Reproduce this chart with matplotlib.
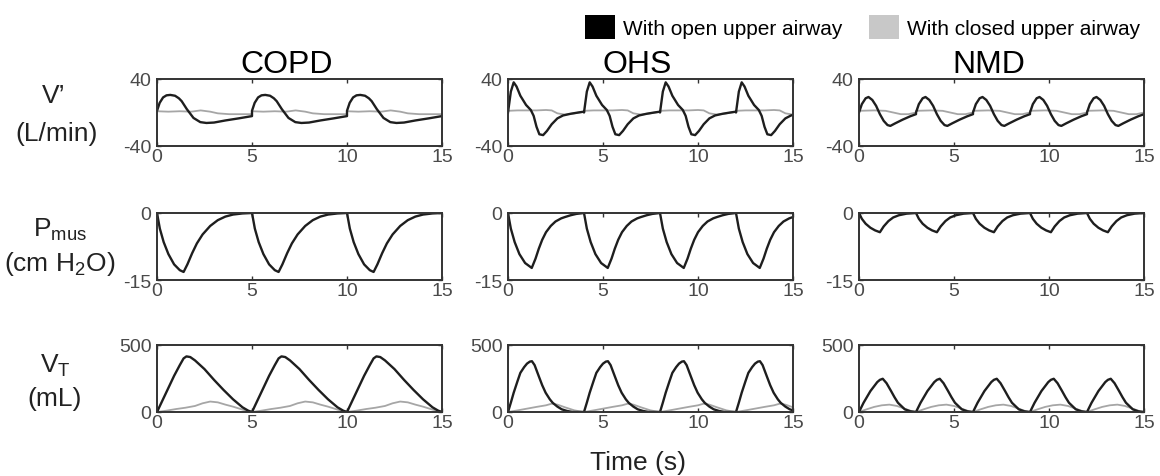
import numpy as np
import matplotlib
matplotlib.use('Agg')
import matplotlib.pyplot as plt
from matplotlib.patches import Patch

plt.rcParams['font.family'] = ['Liberation Sans', 'DejaVu Sans']
plt.rcParams['mathtext.fontset'] = 'custom'
plt.rcParams['mathtext.rm'] = 'Liberation Sans'
plt.rcParams['axes.unicode_minus'] = False

# one breath cycle per panel (t in s within the cycle)
diseases = ['COPD', 'OHS', 'NMD']
periods = [5.0, 4.0, 3.0]

copd_flow_t = [0, 0.14, 0.32, 0.5, 0.7, 0.95, 1.15, 1.3, 1.57, 1.92, 2.28, 2.6, 3.0, 3.6, 4.3, 5.0]
copd_flow_open = [2, 11.5, 18, 20.5, 21, 20, 17, 13.5, 4, -6.5, -11.5, -12.5, -12, -9.5, -7, -4.3]
copd_flow_closed_t = [0, 0.6, 1.2, 1.8, 2.3, 2.8, 3.2, 3.8, 4.4, 5.0]
copd_flow_closed = [1.5, 1, 1.5, 1, 2.5, 1, -1, -2, -2, -2]

ohs_flow_t = [0, 0.15, 0.3, 0.45, 0.65, 0.95, 1.2, 1.35, 1.5, 1.65, 1.85, 2.05, 2.3, 2.6, 2.9, 3.3, 3.7, 4.0]
ohs_flow_open = [0, 25, 36, 31, 20, 9, 3, -4, -17, -26, -27, -22, -14, -7, -3.5, -1.5, 0, 1]
ohs_flow_closed_t = [0, 0.5, 1.0, 1.5, 2.0, 2.3, 2.6, 3.0, 3.5, 4.0]
ohs_flow_closed = [2, 2.5, 2.5, 2.5, 3, 2.5, -1, -2.5, -1, 1]

nmd_flow_t = [0, 0.15, 0.35, 0.5, 0.7, 0.9, 1.1, 1.3, 1.5, 1.65, 1.9, 2.3, 2.7, 3.0]
nmd_flow_open = [0, 10, 17, 18.5, 15, 8, -2, -10, -15, -16, -13, -8.5, -4.5, -2]
nmd_flow_closed_t = [0, 0.8, 1.4, 1.8, 2.2, 2.6, 3.0]
nmd_flow_closed = [2, 2.5, 2, 0, -2, -2, 0]

copd_pmus_t = [0, 0.15, 0.35, 0.6, 0.9, 1.2, 1.4, 1.6, 1.85, 2.1, 2.4, 2.8, 3.2, 3.6, 4.0, 4.5, 5.0]
copd_pmus = [0, -3.5, -6.5, -9.2, -11.5, -12.8, -13.2, -11.5, -9, -6.8, -4.8, -2.9, -1.6, -0.8, -0.35, -0.1, 0]

ohs_pmus_t = [0, 0.15, 0.35, 0.6, 0.9, 1.25, 1.45, 1.62, 1.8, 2.0, 2.25, 2.5, 2.8, 3.0, 3.3, 3.6, 4.0]
ohs_pmus = [0, -3.5, -6.5, -9.2, -11.2, -12.3, -10.2, -8, -6, -4.3, -2.9, -1.9, -1.2, -0.9, -0.5, -0.2, 0]

nmd_pmus_t = [0, 0.15, 0.35, 0.6, 0.85, 1.1, 1.3, 1.55, 1.8, 2.1, 2.5, 3.0]
nmd_pmus = [0, -1.3, -2.4, -3.3, -3.9, -4.3, -3.0, -1.8, -1.0, -0.5, -0.15, 0]

copd_vt_t = [0, 0.3, 0.6, 0.9, 1.2, 1.4, 1.55, 1.75, 2.0, 2.5, 3.0, 3.5, 4.0, 4.5, 4.8, 5.0]
copd_vt_open = [0, 90, 180, 270, 350, 400, 415, 410, 385, 320, 240, 165, 95, 35, 10, 0]
copd_vt_closed_t = [0, 0.5, 1.0, 1.5, 2.0, 2.4, 2.8, 3.2, 3.6, 4.0, 4.5, 5.0]
copd_vt_closed = [0, 10, 22, 32, 45, 65, 78, 72, 55, 40, 18, 0]

ohs_vt_t = [0, 0.15, 0.3, 0.5, 0.65, 0.85, 1.0, 1.15, 1.26, 1.4, 1.62, 1.8, 1.98, 2.2, 2.35, 2.6, 2.83, 3.1, 3.4, 4.0]
ohs_vt_open = [0, 70, 144, 230, 292, 335, 361, 376, 379, 350, 267, 200, 144, 95, 69, 40, 20, 8, 0, 0]
ohs_vt_closed_t = [0, 0.5, 1.0, 1.5, 2.0, 2.3, 2.6, 3.0, 3.5, 4.0]
ohs_vt_closed = [0, 12, 25, 38, 50, 62, 55, 35, 12, 0]

nmd_vt_t = [0, 0.24, 0.6, 0.96, 1.1, 1.25, 1.45, 1.69, 1.87, 2.05, 2.41, 2.7, 3.0]
nmd_vt_open = [0, 69, 156, 223, 240, 248, 215, 156, 110, 69, 20, 5, 0]
nmd_vt_closed_t = [0, 0.4, 0.8, 1.2, 1.6, 2.0, 2.4, 2.8, 3.0]
nmd_vt_closed = [0, 20, 38, 50, 55, 45, 25, 5, 0]

rows = [
    [(copd_flow_t, copd_flow_open, copd_flow_closed_t, copd_flow_closed),
     (ohs_flow_t, ohs_flow_open, ohs_flow_closed_t, ohs_flow_closed),
     (nmd_flow_t, nmd_flow_open, nmd_flow_closed_t, nmd_flow_closed)],
    [(copd_pmus_t, copd_pmus, None, None),
     (ohs_pmus_t, ohs_pmus, None, None),
     (nmd_pmus_t, nmd_pmus, None, None)],
    [(copd_vt_t, copd_vt_open, copd_vt_closed_t, copd_vt_closed),
     (ohs_vt_t, ohs_vt_open, ohs_vt_closed_t, ohs_vt_closed),
     (nmd_vt_t, nmd_vt_open, nmd_vt_closed_t, nmd_vt_closed)],
]
ylims = [(-40, 40), (-15, 0), (0, 500)]
x_ticks = [0, 5, 10, 15]


def repeat_cycle(t, y, period, end=15.0):
    # place the same breath one after another over the 15 s window
    ts, ys = [], []
    for start in np.arange(0, end, period):
        ts.append(np.asarray(t) + start)
        ys.append(np.asarray(y))
    return np.concatenate(ts), np.concatenate(ys)


W, H = 1160, 477
fig = plt.figure(figsize=(W / 100, H / 100), dpi=100)

lefts = [157, 508, 859]
tops = [80, 214, 346]
aw, ah = 285, 67
frame = '#333333'
tick_col = '#4a4a4a'

for r in range(3):
    for c in range(3):
        ax = fig.add_axes([lefts[c] / W, 1 - (tops[r] + ah) / H, aw / W, ah / H])
        t_o, y_o, t_c, y_c = rows[r][c]
        if t_c is not None:
            tc, yc = repeat_cycle(t_c, y_c, periods[c])
            ax.plot(tc, yc, color='#a6a6a6', lw=1.3)
        to, yo = repeat_cycle(t_o, y_o, periods[c])
        ax.plot(to, yo, color='#1e1e1e', lw=1.7)
        ax.set_xlim(0, 15)
        ax.set_ylim(*ylims[r])
        ax.set_xticks(x_ticks)
        ax.set_yticks(list(ylims[r]))
        ax.tick_params(direction='in', top=True, right=True, length=3,
                       labelsize=14, labelcolor=tick_col, color=frame, width=1)
        ax.tick_params(axis='x', pad=1.5)
        ax.tick_params(axis='y', pad=4)
        for s in ax.spines.values():
            s.set_color(frame)
            s.set_linewidth(1.4)
        if r == 0:
            cx = lefts[c] + aw / 2 - 13
            fig.text(cx / W, 1 - 73 / H, diseases[c], fontsize=23,
                     ha='center', va='baseline', color='black')

# row labels
lab = dict(fontsize=19, ha='center', va='baseline', color='#222222')
fig.text(54 / W, 1 - 103 / H, 'V\u2019', **lab)
fig.text(57 / W, 1 - 141 / H, '(L/min)', **lab)
fig.text(60 / W, 1 - 237 / H, r'P$_{\mathregular{mus}}$', **lab)
fig.text(60 / W, 1 - 271 / H, r'(cm H$_{\mathregular{2}}$O)', **lab)
fig.text(55 / W, 1 - 373 / H, r'V$_{\mathregular{T}}$', **lab)
fig.text(55 / W, 1 - 406 / H, '(mL)', **lab)

fig.text(638 / W, 1 - 470 / H, 'Time (s)', fontsize=19, ha='center',
         va='baseline', color='#222222')

handles = [Patch(facecolor='black', edgecolor='none'),
           Patch(facecolor='#c8c8c8', edgecolor='none')]
fig.legend(handles, ['With open upper airway', 'With closed upper airway'],
           loc='upper right', bbox_to_anchor=(1140 / W, 1 - 16 / H), ncol=2,
           frameon=False, fontsize=15, handlelength=1.4, handleheight=1.4,
           handletextpad=0.4, columnspacing=1.3, borderpad=0, borderaxespad=0)

fig.savefig('out.png', dpi=100)
